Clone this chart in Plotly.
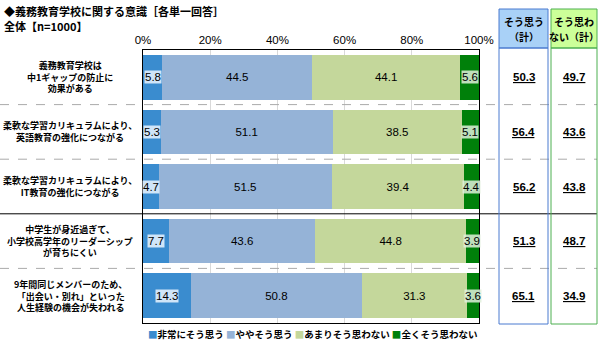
import plotly.graph_objects as go

categories = [
    "義務教育学校は<br>中1ギャップの防止に<br>効果がある",
    "柔軟な学習カリキュラムにより、<br>英語教育の強化につながる",
    "柔軟な学習カリキュラムにより、<br>IT教育の強化につながる",
    "中学生が身近過ぎて、<br>小学校高学年のリーダーシップ<br>が育ちにくい",
    "9年間同じメンバーのため、<br>「出会い・別れ」といった<br>人生経験の機会が失われる",
]
series_names = ["非常にそう思う", "ややそう思う", "あまりそう思わない", "全くそう思わない"]
very_agree = [5.8, 5.3, 4.7, 7.7, 14.3]
somewhat_agree = [44.5, 51.1, 51.5, 43.6, 50.8]
not_really = [44.1, 38.5, 39.4, 44.8, 31.3]
not_at_all = [5.6, 5.1, 4.4, 3.9, 3.6]
agree_total = [50.3, 56.4, 56.2, 51.3, 65.1]
disagree_total = [49.7, 43.6, 43.8, 48.7, 34.9]
total_headers = [["そう思う", "（計）"], ["そう思わ", "ない（計）"]]
tick_vals = [0, 20, 40, 60, 80, 100]

colors = ["#3a8ccf", "#95b3d7", "#c4d79b", "#00800a"]
FONT = "Noto Sans CJK JP, sans-serif"
NUMFONT = "Liberation Sans, Arial, sans-serif"

W, H = 600, 347
L, R, T, B = 143, 479, 50, 323
pw, ph = R - L, B - T

def px(x):
    return (x - L) / pw

def py(y):
    return (B - y) / ph

idx = list(range(len(categories)))
series = [very_agree, somewhat_agree, not_really, not_at_all]

fig = go.Figure()
for i, (name, vals) in enumerate(zip(series_names, series)):
    show_text = i in (1, 2)
    fig.add_trace(go.Bar(
        y=idx, x=vals, name=name, orientation="h",
        marker=dict(color=colors[i], line=dict(width=0)),
        width=0.82,
        text=[f"{v:.1f}" for v in vals] if show_text else None,
        textposition="inside" if show_text else "none",
        insidetextanchor="middle",
        constraintext="none",
        textfont=dict(color="black", size=11.5, family=NUMFONT),
        hoverinfo="skip",
        showlegend=False,
    ))

annotations = []

def ann(**kw):
    base = dict(showarrow=False, xanchor="center", yanchor="middle")
    base.update(kw)
    annotations.append(base)

for j in idx:
    ann(x=very_agree[j] / 2, y=j, xref="x", yref="y", text=f"{very_agree[j]:.1f}",
        font=dict(size=11.5, color="black", family=NUMFONT),
        bgcolor="rgba(235,245,255,0.85)", borderpad=0)
    ann(x=100 - not_at_all[j] / 2, y=j, xref="x", yref="y", text=f"{not_at_all[j]:.1f}",
        font=dict(size=11.5, color="black", family=NUMFONT),
        bgcolor="rgba(225,240,220,0.85)", borderpad=0)
    ann(x=px(70), y=j, xref="paper", yref="y", text=f"<b>{categories[j]}</b>",
        align="center", font=dict(size=9, color="black", family=FONT))
    ann(x=px(523.5), y=j, xref="paper", yref="y", text=f"<b><u>{agree_total[j]:.1f}</u></b>",
        font=dict(size=11.5, color="black", family=NUMFONT))
    ann(x=px(574), y=j, xref="paper", yref="y", text=f"<b><u>{disagree_total[j]:.1f}</u></b>",
        font=dict(size=11.5, color="black", family=NUMFONT))

ann(x=px(2), y=py(11), xref="paper", yref="paper", xanchor="left",
    text="<b>◆義務教育学校に関する意識［各単一回答］</b>",
    font=dict(size=11, color="black", family=FONT))
ann(x=px(2), y=py(25.5), xref="paper", yref="paper", xanchor="left",
    text="<b>全体【n=1000】</b>", font=dict(size=11, color="black", family=FONT))
for xc, lines in zip([523.5, 574], total_headers):
    ann(x=px(xc), y=py(21.5), xref="paper", yref="paper",
        text=f"<b>{lines[0]}</b>", font=dict(size=10, color="black", family=FONT))
    ann(x=px(xc), y=py(36.5), xref="paper", yref="paper",
        text=f"<b>{lines[1]}</b>", font=dict(size=10, color="black", family=FONT))

legend_text = " ".join(
    f"<span style='color:{c}'>■</span>{n}" for c, n in zip(colors, series_names)
)
ann(x=px(312), y=py(334), xref="paper", yref="paper",
    text=f"<b>{legend_text}</b>", font=dict(size=9.5, color="black", family=FONT))

shapes = []
for k in range(len(categories) - 1):
    solid = (k == 2)
    shapes.append(dict(type="line", xref="paper", yref="y",
                       x0=px(0), x1=px(597), y0=k + 0.5, y1=k + 0.5,
                       line=dict(color="black" if solid else "#aaaaaa",
                                 width=1, dash="solid" if solid else "dash"),
                       layer="above"))
shapes.append(dict(type="rect", xref="paper", yref="paper", x0=px(499), x1=px(548),
                   y0=py(48), y1=py(9), fillcolor="#a9d1f7", line=dict(color="#4a7bd0", width=1)))
shapes.append(dict(type="rect", xref="paper", yref="paper", x0=px(499), x1=px(548),
                   y0=py(324), y1=py(48), fillcolor="rgba(0,0,0,0)", line=dict(color="#4a7bd0", width=1)))
shapes.append(dict(type="rect", xref="paper", yref="paper", x0=px(551), x1=px(597),
                   y0=py(48), y1=py(9), fillcolor="#ccff99", line=dict(color="#4caf50", width=1)))
shapes.append(dict(type="rect", xref="paper", yref="paper", x0=px(551), x1=px(597),
                   y0=py(324), y1=py(48), fillcolor="rgba(0,0,0,0)", line=dict(color="#4caf50", width=1)))

fig.update_layout(
    barmode="stack",
    width=W, height=H,
    margin=dict(l=L, r=W - R, t=T, b=H - B, pad=0),
    paper_bgcolor="white", plot_bgcolor="white",
    font=dict(family=FONT, color="black", size=11),
    showlegend=False,
    xaxis=dict(range=[0, 100], side="top", tickvals=tick_vals,
               ticktext=[f"{v}%" for v in tick_vals],
               showgrid=True, gridcolor="#d9d9d9", zeroline=False,
               showline=True, linecolor="black", linewidth=1, mirror=True,
               ticks="", tickfont=dict(size=11.5, family=NUMFONT)),
    yaxis=dict(range=[4.5, -0.5], showticklabels=False, showgrid=False,
               zeroline=False, showline=True, linecolor="black", linewidth=1,
               mirror=True, ticks=""),
    annotations=annotations,
    shapes=shapes,
)

fig.write_html("out.html")
